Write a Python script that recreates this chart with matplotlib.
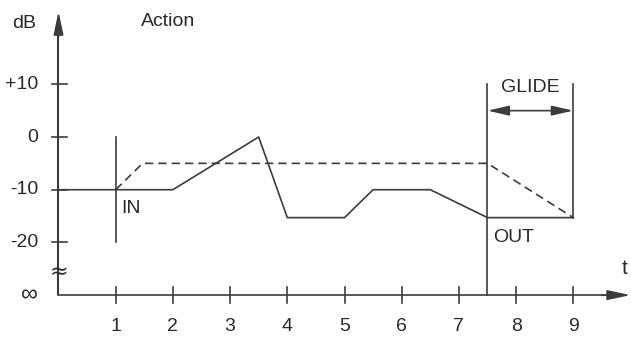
import matplotlib.pyplot as plt

plt.rcParams['font.family'] = ['Liberation Sans', 'DejaVu Sans']

# data
solid_t = [0, 2, 3.5, 4, 5, 5.5, 6.5, 7.5, 9]
solid_db = [-10, -10, 0, -15.3, -15.3, -10, -10, -15.3, -15.3]
dash_t = [1, 1.47, 7.5, 9]
dash_db = [-10, -5, -5, -15.3]
x_ticks = [1, 2, 3, 4, 5, 6, 7, 8, 9]
y_ticks = [10, 0, -10, -20]
y_labels = ['+10', '0', '-10', '-20']
inf_db = -30   # level drawn for the "infinity" tick
in_t, out_t, glide_end = 1, 7.5, 9

col = '#3c3c3c'
tcol = '#2a2a2a'
fs = 14
lw = 1.2

fig = plt.figure(figsize=(6.31, 3.38), dpi=100)
ax = fig.add_axes([0, 0, 1, 1])
ax.set_xlim(-58.5 / 57.2, (631 - 58.5) / 57.2)
ax.set_ylim((137 - 338) / 5.27, 137 / 5.27)
ax.axis('off')

# axes lines + arrow heads
ax.vlines(0, inf_db, 22, colors=col, lw=1.5, zorder=3)
ax.plot([0, 9.8], [inf_db, inf_db], color=col, lw=lw)
head = dict(arrowstyle='-|>,head_length=1.4,head_width=0.3',
            color=col, lw=lw, shrinkA=0, shrinkB=0)
ax.annotate('', xy=(0, 23.8), xytext=(0, 19), arrowprops=head)
ax.annotate('', xy=(10.0, inf_db), xytext=(9.5, inf_db), arrowprops=head)

# ticks
for v, lab in zip(y_ticks, y_labels):
    ax.plot([-0.11, 0.14], [v, v], color=col, lw=lw)
    ax.text(-0.36, v, lab, ha='right', va='center', fontsize=fs, color=tcol)
ax.text(-0.36, inf_db, '∞', ha='right', va='center', fontsize=fs + 3, color=tcol)
ax.text(0, -25.6, '≈', ha='center', va='center', fontsize=fs + 2, color=tcol,
        family=['DejaVu Sans'], zorder=4)
for v in x_ticks:
    ax.plot([v, v], [inf_db + 1.5, inf_db - 1.5], color=col, lw=lw)
    ax.text(v, inf_db - 6.0, str(v), ha='center', va='center', fontsize=fs, color=tcol)

# curves
ax.plot(solid_t, solid_db, color=col, lw=lw)
ax.plot(dash_t, dash_db, color=col, lw=lw, dashes=(5, 3))

# markers for IN / OUT / GLIDE
ax.plot([in_t, in_t], [0, -20], color=col, lw=lw)
ax.plot([out_t, out_t], [10, inf_db], color=col, lw=lw)
ax.plot([glide_end, glide_end], [10, -15.3], color=col, lw=lw)
ax.annotate('', xy=(out_t, 5), xytext=(glide_end, 5),
            arrowprops=dict(arrowstyle='<|-|>,head_length=1.3,head_width=0.3',
                            color=col, lw=lw, shrinkA=0, shrinkB=0))

ax.text(in_t + 0.1, -13.5, 'IN', ha='left', va='center', fontsize=fs, color=tcol)
ax.text(out_t + 0.1, -19.1, 'OUT', ha='left', va='center', fontsize=fs, color=tcol)
ax.text(8.25, 9.4, 'GLIDE', ha='center', va='center', fontsize=fs, color=tcol)
ax.text(-0.6, 21.6, 'dB', ha='center', va='center', fontsize=fs, color=tcol)
ax.text(1.91, 22.0, 'Action', ha='center', va='center', fontsize=fs, color=tcol)
ax.text(9.9, -25.0, 't', ha='center', va='center', fontsize=fs + 1, color=tcol)

fig.savefig('out.png', dpi=100)
